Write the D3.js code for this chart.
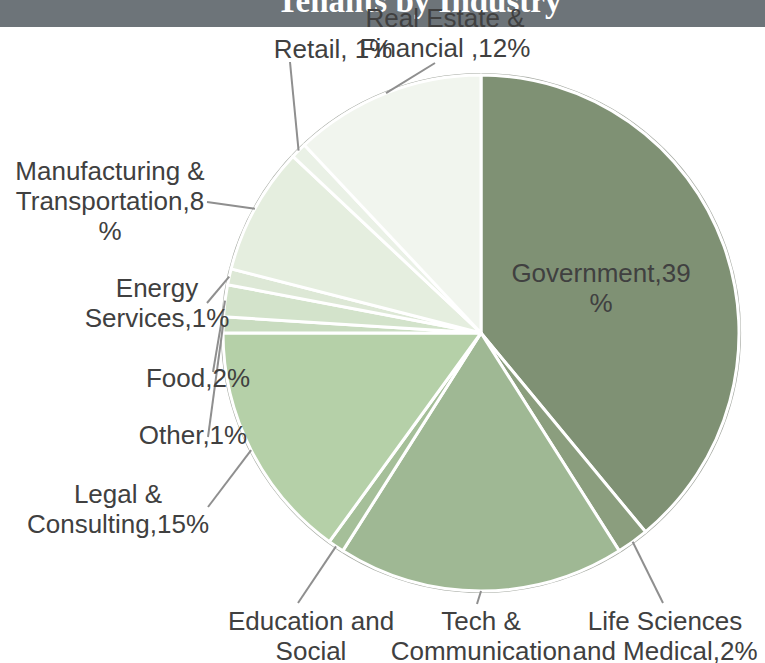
<!DOCTYPE html>
<html>
<head>
<meta charset="utf-8">
<script src="https://cdn.jsdelivr.net/npm/d3@7/dist/d3.min.js"></script>
<style>
  html, body { margin: 0; padding: 0; background: #ffffff; }
  svg { display: block; }
</style>
</head>
<body>
<svg id="chart" width="765" height="663"></svg>
<script>
// Tenant mix by industry (percent of tenants), clockwise from 12 o'clock
const categories = [
  "Government",
  "Life Sciences and Medical",
  "Tech & Communication",
  "Education and Social",
  "Legal & Consulting",
  "Other",
  "Food",
  "Energy Services",
  "Manufacturing & Transportation",
  "Retail",
  "Real Estate & Financial"
];
const shares = [39, 2, 18, 1, 15, 1, 2, 1, 8, 1, 12];

// Label wording; "{v}" is replaced by the slice value, "|" breaks a line
const labelTemplates = [
  "Government,{v}|%",
  "Life Sciences|and Medical,{v}%",
  "Tech &|Communication|,{v}%",
  "Education and|Social|,{v}%",
  "Legal &|Consulting,{v}%",
  "Other,{v}%",
  "Food,{v}%",
  "Energy|Services,{v}%",
  "Manufacturing &|Transportation,{v}|%",
  "Retail, {v}%",
  "Real Estate &|Financial ,{v}%"
];

const sliceColors = [
  "#7f9174", "#8b9e7e", "#9fb894", "#a5bf99", "#b5d0a8",
  "#c9dcc0", "#d3e3cb", "#dde8d6", "#e5eedf", "#eaf1e6", "#f1f5ee"
];

const chartTitle = "Tenants by Industry";

// ---- layout ----
const W = 765, H = 663;
const cx = 481, cy = 333, R = 258;
const fontSize = 26, lineGap = 30;

// label anchor (centre x, first baseline) and leader end point
const labelLayout = {
  "Government":                     { x: 601, y: 282, leader: null },
  "Life Sciences and Medical":      { x: 665, y: 630, leader: [663, 603] },
  "Tech & Communication":           { x: 481, y: 630, leader: [477, 604] },
  "Education and Social":           { x: 311, y: 630, leader: [298, 603] },
  "Legal & Consulting":             { x: 118, y: 503, leader: [208, 507] },
  "Other":                          { x: 193, y: 444, leader: [208, 437] },
  "Food":                           { x: 198, y: 387, leader: [213, 372] },
  "Energy Services":                { x: 157, y: 297, leader: [207, 303] },
  "Manufacturing & Transportation": { x: 110, y: 180, leader: [207, 202] },
  "Retail":                         { x: 333, y: 58,  leader: [290, 62] },
  "Real Estate & Financial":        { x: 445, y: 27,  leader: [435, 63] }
};

const svg = d3.select("#chart");

// title bar
svg.append("rect")
  .attr("x", 0).attr("y", 0).attr("width", W).attr("height", 27)
  .attr("fill", "#6d7479");

const data = categories.map((c, i) => ({ name: c, value: shares[i], color: sliceColors[i], tpl: labelTemplates[i] }));

const pie = d3.pie().value(d => d.value).sort(null).startAngle(0).endAngle(2 * Math.PI);
const arcs = pie(data);
const arc = d3.arc().innerRadius(0).outerRadius(R);

const g = svg.append("g").attr("transform", `translate(${cx},${cy})`);

// thin outer ring
g.append("circle")
  .attr("r", R + 1.5)
  .attr("fill", "none")
  .attr("stroke", "#a9ada6")
  .attr("stroke-width", 1.2);

g.selectAll("path.slice")
  .data(arcs)
  .join("path")
  .attr("class", "slice")
  .attr("d", arc)
  .attr("fill", d => d.data.color)
  .attr("stroke", "#ffffff")
  .attr("stroke-width", 3)
  .attr("stroke-linejoin", "round");

// leader lines from slice edge to label
const edgePoint = d => {
  const a = (d.startAngle + d.endAngle) / 2;
  return [cx + R * Math.sin(a), cy - R * Math.cos(a)];
};

svg.append("g").selectAll("line")
  .data(arcs.filter(d => labelLayout[d.data.name].leader))
  .join("line")
  .attr("x1", d => edgePoint(d)[0])
  .attr("y1", d => edgePoint(d)[1])
  .attr("x2", d => labelLayout[d.data.name].leader[0])
  .attr("y2", d => labelLayout[d.data.name].leader[1])
  .attr("stroke", "#8f8f8f")
  .attr("stroke-width", 2);

// data labels
const labels = svg.append("g")
  .attr("font-family", "'Liberation Sans', Arial, sans-serif")
  .attr("font-size", fontSize)
  .attr("fill", "#404040")
  .attr("text-anchor", "middle");

arcs.forEach(d => {
  const pos = labelLayout[d.data.name];
  const lines = d.data.tpl.replace("{v}", d.data.value).split("|");
  const t = labels.append("text").attr("x", pos.x).attr("y", pos.y);
  lines.forEach((ln, i) => {
    t.append("tspan")
      .attr("x", pos.x)
      .attr("y", pos.y + i * lineGap)
      .text(ln);
  });
});

// title (drawn last, partly above the top edge)
svg.append("text")
  .attr("x", 419).attr("y", 12)
  .attr("text-anchor", "middle")
  .attr("font-family", "'Liberation Serif', 'Times New Roman', serif")
  .attr("font-weight", "bold")
  .attr("font-size", 33)
  .attr("fill", "#ffffff")
  .text(chartTitle);

// keep the real-estate label above the title bar
labels.raise();
</script>
</body>
</html>
